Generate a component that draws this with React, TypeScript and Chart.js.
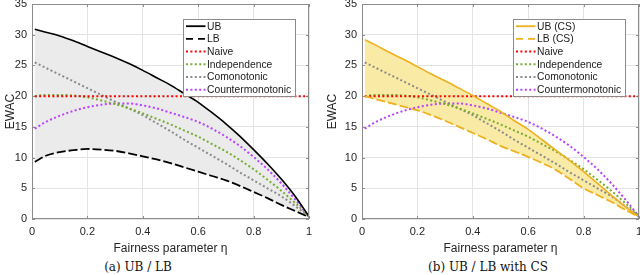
import React, { useEffect, useRef } from 'react';
import { Chart, registerables } from 'chart.js';
Chart.register(...registerables);

// Fairness parameter eta
const eta = [0.01, 0.05, 0.1, 0.15, 0.2, 0.25, 0.3, 0.35, 0.4, 0.45, 0.5, 0.55, 0.6, 0.65, 0.7, 0.75, 0.8, 0.85, 0.9, 0.95, 1.0];

// Panel (a): UB / LB
const ubA = [30.9, 30.4, 29.8, 29.0, 28.1, 27.2, 26.3, 25.3, 24.2, 23.0, 21.8, 20.4, 19.0, 17.3, 15.5, 13.5, 11.3, 9.0, 6.5, 3.7, 0.4];
const lbA = [9.3, 10.3, 10.9, 11.2, 11.4, 11.3, 11.1, 10.7, 10.2, 9.7, 9.1, 8.4, 7.7, 7.0, 6.3, 5.4, 4.4, 3.4, 2.3, 1.3, 0.3];

// Panel (b): UB / LB with CS
const ubCS = [29.2, 28.3, 27.1, 26.0, 24.8, 23.6, 22.5, 21.3, 20.1, 18.8, 17.5, 16.0, 14.6, 12.9, 11.2, 9.5, 7.7, 5.8, 3.9, 2.0, 0.3];
const lbCS = [20.0, 19.5, 18.9, 18.3, 17.7, 16.9, 16.0, 15.0, 14.0, 13.0, 11.9, 11.0, 10.1, 9.1, 8.0, 6.5, 5.0, 3.9, 2.8, 1.5, 0.3];

// Shared series
const naive = [20, 20, 20, 20, 20, 20, 20, 20, 20, 20, 20, 20, 20, 20, 20, 20, 20, 20, 20, 20, 20];
const independence = [20.0, 20.2, 20.2, 20.1, 19.8, 19.3, 18.7, 18.0, 17.2, 16.3, 15.4, 14.4, 13.4, 12.2, 11.0, 9.6, 8.1, 6.4, 4.6, 2.6, 0.5];
const comonotonic = [25.5, 24.6, 23.5, 22.4, 21.3, 20.2, 19.1, 18.0, 16.9, 15.6, 14.3, 12.9, 11.6, 10.3, 9.0, 7.6, 6.3, 5.0, 3.7, 2.1, 0.4];
const countermonotonic = [14.7, 15.8, 16.8, 17.6, 18.2, 18.6, 18.8, 18.8, 18.5, 18.0, 17.3, 16.6, 15.8, 14.7, 13.4, 11.9, 10.1, 8.1, 5.8, 3.2, 0.4];

const xTicks = [0, 0.2, 0.4, 0.6, 0.8, 1];
const yTicks = [0, 5, 10, 15, 20, 25, 30, 35];

const FONT = "'Liberation Sans', Arial, Helvetica, sans-serif";
const AXIS = '#262626';

type LegendItem = { label: string; color: string; kind: 'solid' | 'dash' | 'dot' };

type PanelProps = {
  ub: number[];
  lb: number[];
  ubLabel: string;
  lbLabel: string;
  lineColor: string;
  fillColor: string;
  yWidth: number;
  yTitlePad: number;
  padRight: number;
  left: number;
  caption: string;
  captionCenter: number;
};

function Panel(p: PanelProps) {
  const ref = useRef<HTMLCanvasElement>(null);
  useEffect(() => {
    const pts = (ys: number[]) => eta.map((x, i) => ({ x, y: ys[i] }));
    const dotted = (label: string, data: number[], color: string) => ({
      label,
      data: pts(data),
      borderColor: color,
      backgroundColor: color,
      borderWidth: 2,
      borderDash: [2, 2.4],
      borderCapStyle: 'butt',
      pointRadius: 0,
      fill: false,
      cubicInterpolationMode: 'monotone',
    });
    const legendItems: LegendItem[] = [
      { label: p.ubLabel, color: p.lineColor, kind: 'solid' },
      { label: p.lbLabel, color: p.lineColor, kind: 'dash' },
      { label: 'Naive', color: '#ff0000', kind: 'dot' },
      { label: 'Independence', color: '#77ac30', kind: 'dot' },
      { label: 'Comonotonic', color: '#8a8a8a', kind: 'dot' },
      { label: 'Countermonotonic', color: '#b940ff', kind: 'dot' },
    ];
    const framePlugin = {
      id: 'frame',
      beforeDatasetsDraw(chart: any) {
        const { ctx, chartArea: a, scales } = chart;
        ctx.save();
        ctx.strokeStyle = '#8c8c8c';
        ctx.lineWidth = 1;
        ctx.beginPath();
        for (const v of xTicks) {
          const x = Math.round(scales.x.getPixelForValue(v)) + 0.5;
          ctx.moveTo(x, a.bottom); ctx.lineTo(x, a.bottom - 3);
          ctx.moveTo(x, a.top); ctx.lineTo(x, a.top + 3);
        }
        for (const v of yTicks) {
          const y = Math.round(scales.y.getPixelForValue(v)) + 0.5;
          ctx.moveTo(a.left, y); ctx.lineTo(a.left + 3, y);
          ctx.moveTo(a.right, y); ctx.lineTo(a.right - 3, y);
        }
        ctx.stroke();
        ctx.restore();
      },
      afterDraw(chart: any) {
        const { ctx, chartArea: a } = chart;
        ctx.save();
        ctx.strokeStyle = '#8c8c8c';
        ctx.lineWidth = 1;
        ctx.strokeRect(Math.round(a.left) + 0.5, Math.round(a.top) + 0.5, Math.round(a.right - a.left) - 1, Math.round(a.bottom - a.top) - 1);
        // legend
        const bw = 112, bh = 77;
        const bx = Math.round(a.right - 14 - bw) + 0.5;
        const by = Math.round(a.top + 15) + 0.5;
        ctx.fillStyle = '#ffffff';
        ctx.fillRect(bx, by, bw, bh);
        ctx.strokeStyle = '#8c8c8c';
        ctx.strokeRect(bx, by, bw, bh);
        ctx.font = `10.3px ${FONT}`;
        ctx.textBaseline = 'middle';
        ctx.textAlign = 'left';
        legendItems.forEach((it, i) => {
          const y = by + 6.7 + i * 12.7;
          ctx.beginPath();
          ctx.strokeStyle = it.color;
          if (it.kind === 'solid') { ctx.lineWidth = 1.8; ctx.setLineDash([]); }
          else if (it.kind === 'dash') { ctx.lineWidth = 1.8; ctx.setLineDash([7, 5]); }
          else { ctx.lineWidth = 2; ctx.setLineDash([2, 2.4]); }
          ctx.moveTo(bx + 2.5, y);
          ctx.lineTo(bx + 22, y);
          ctx.stroke();
          ctx.setLineDash([]);
          ctx.fillStyle = '#1a1a1a';
          ctx.fillText(it.label, bx + 23.5, y + 0.5);
        });
        ctx.restore();
      },
    };
    const chart = new Chart(ref.current as HTMLCanvasElement, {
      type: 'line',
      data: {
        datasets: [
          {
            label: p.ubLabel,
            data: pts(p.ub),
            borderColor: p.lineColor,
            backgroundColor: p.fillColor,
            borderWidth: 1.6,
            pointRadius: 0,
            fill: '+1',
            cubicInterpolationMode: 'monotone',
          },
          {
            label: p.lbLabel,
            data: pts(p.lb),
            borderColor: p.lineColor,
            backgroundColor: p.fillColor,
            borderWidth: 1.8,
            borderDash: [9, 3],
            pointRadius: 0,
            fill: false,
            cubicInterpolationMode: 'monotone',
          },
          dotted('Naive', naive, '#ff0000'),
          dotted('Independence', independence, '#77ac30'),
          dotted('Comonotonic', comonotonic, '#8a8a8a'),
          dotted('Countermonotonic', countermonotonic, '#b940ff'),
        ] as any,
      },
      options: {
        animation: false,
        responsive: false,
        devicePixelRatio: 1,
        layout: { padding: { top: 4, right: p.padRight, left: 0, bottom: 0 } },
        plugins: {
          legend: { display: false },
          tooltip: { enabled: false },
          filler: { drawTime: 'beforeDatasetsDraw' },
        } as any,
        scales: {
          x: {
            type: 'linear',
            min: 0,
            max: 1,
            afterBuildTicks: (s: any) => { s.ticks = xTicks.map((v) => ({ value: v })); },
            afterFit: (s: any) => { s.height = 37; s.paddingLeft = 0; s.paddingRight = 0; },
            ticks: {
              color: AXIS,
              font: { family: FONT, size: 11 },
              padding: 6,
              maxRotation: 0,
              callback: (v: any) => String(v),
            },
            grid: { color: '#e3e3e3', drawTicks: false },
            border: { display: false },
            title: {
              display: true,
              text: 'Fairness parameter η',
              color: AXIS,
              font: { family: FONT, size: 12 },
              padding: { top: 0, bottom: 0 },
            },
          },
          y: {
            type: 'linear',
            min: 0,
            max: 35,
            afterBuildTicks: (s: any) => { s.ticks = yTicks.map((v) => ({ value: v })); },
            afterFit: (s: any) => { s.width = p.yWidth; s.paddingTop = 0; s.paddingBottom = 0; },
            ticks: {
              color: AXIS,
              font: { family: FONT, size: 11 },
              padding: 5,
            },
            grid: { color: '#e3e3e3', drawTicks: false },
            border: { display: false },
            title: {
              display: true,
              text: 'EWAC',
              color: AXIS,
              font: { family: FONT, size: 12 },
              padding: { top: p.yTitlePad, bottom: 0 },
            },
          },
        },
      } as any,
      plugins: [framePlugin],
    });
    return () => chart.destroy();
  }, []);
  return (
    <div style={{ position: 'absolute', left: p.left, top: 0, width: 320, height: 275 }}>
      <canvas ref={ref} width={320} height={256} style={{ display: 'block', width: 320, height: 256 }} />
      <div
        style={{
          position: 'absolute',
          top: 260,
          left: p.captionCenter - 120,
          width: 240,
          textAlign: 'center',
          fontFamily: "'DejaVu Serif', 'Liberation Serif', serif",
          fontSize: 12,
          lineHeight: '15px',
          color: '#111',
          whiteSpace: 'nowrap',
        }}
      >
        {p.caption}
      </div>
    </div>
  );
}

export default function App() {
  return (
    <div style={{ position: 'absolute', left: 0, top: 0, width: 640, height: 275, background: '#fff', overflow: 'hidden' }}>
      <Panel
        ub={ubA}
        lb={lbA}
        ubLabel="UB"
        lbLabel="LB"
        lineColor="#000000"
        fillColor="#ebebeb"
        yWidth={32}
        yTitlePad={3}
        padRight={11}
        left={0}
        caption="(a) UB / LB"
        captionCenter={138}
      />
      <Panel
        ub={ubCS}
        lb={lbCS}
        ubLabel="UB (CS)"
        lbLabel="LB (CS)"
        lineColor="#edb120"
        fillColor="#f9eaa6"
        yWidth={42}
        yTitlePad={5}
        padRight={1}
        left={320}
        caption="(b) UB / LB with CS"
        captionCenter={168}
      />
    </div>
  );
}
